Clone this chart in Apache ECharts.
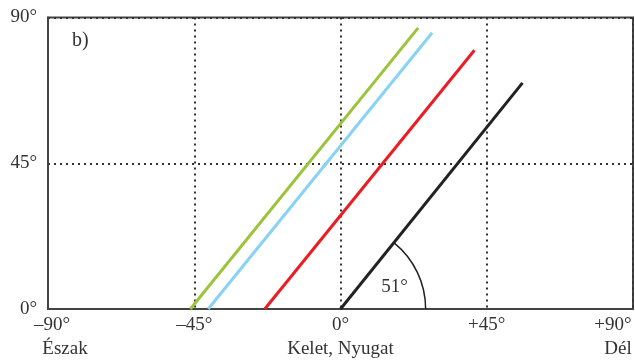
<!DOCTYPE html>
<html>
<head>
<meta charset="utf-8">
<script src="https://cdn.jsdelivr.net/npm/echarts@6/dist/echarts.min.js"></script>
<style>
  html, body { margin: 0; padding: 0; background: #fff; }
  #chart { width: 635px; height: 360px; }
</style>
</head>
<body>
<div id="chart"></div>
<script>
// tick values and labels
var xTicks = [-90, -45, 0, 45, 90];
var xTickLabels = ['–90°', '–45°', '0°', '+45°', '+90°'];
var directions = ['Észak', '', 'Kelet, Nyugat', '', 'Dél'];
var yTicks = [0, 45, 90];
var yTickLabels = ['0°', '45°', '90°'];

// line end points [x, y] in degrees
var greenLine = [[-46.2, 0], [23.9, 86.8]];
var blueLine = [[-40.7, 0], [28.2, 85.3]];
var redLine = [[-23.3, 0], [41.2, 79.9]];
var blackLine = [[0, 0], [56, 69.8]];

var angleDeg = 51;
var angleText = '51°';
var panelText = 'b)';

var font = '"Liberation Serif", "DejaVu Serif", serif';
var txt = '#333';

var chart = echarts.init(document.getElementById('chart'));

function lineSeries(data, color) {
  return {
    type: 'line',
    data: data,
    symbol: 'none',
    silent: true,
    lineStyle: { color: color, width: 3 },
    z: 3
  };
}

var rich = {
  t: { fontFamily: font, fontSize: 19, color: txt, lineHeight: 24 },
  d: { fontFamily: font, fontSize: 19, color: txt, lineHeight: 24 },
  t0: { fontFamily: font, fontSize: 19, color: txt, lineHeight: 24, padding: [0, 0, 0, 8] },
  d0: { fontFamily: font, fontSize: 19, color: txt, lineHeight: 24, padding: [0, 0, 0, 34] },
  t4: { fontFamily: font, fontSize: 19, color: txt, lineHeight: 24, padding: [0, 40, 0, 0] },
  d4: { fontFamily: font, fontSize: 19, color: txt, lineHeight: 24, padding: [0, 30, 0, 0] }
};

var dotted = { color: '#333', width: 2, type: [2, 4] };

var option = {
  animation: false,
  grid: {
    left: 48, right: 2, top: 17.5, bottom: 51,
    outerBoundsMode: 'none',
    containLabel: false,
    show: true, borderColor: '#444', borderWidth: 2
  },
  xAxis: {
    type: 'value',
    min: -90, max: 90, interval: 45,
    axisLine: { show: true, onZero: false, lineStyle: { color: '#444', width: 2 } },
    axisTick: { show: false },
    splitLine: { show: true, lineStyle: dotted },
    axisLabel: {
      margin: 4,
      rich: rich,
      formatter: function (v) {
        var i = xTicks.indexOf(v);
        if (i < 0) return '';
        var k = i === 0 ? '0' : (i === 4 ? '4' : '');
        var s = '{t' + k + '|' + xTickLabels[i] + '}';
        if (directions[i]) s += '\n{d' + k + '|' + directions[i] + '}';
        return s;
      }
    }
  },
  yAxis: {
    type: 'value',
    min: 0, max: 90, interval: 45,
    axisLine: { show: true, onZero: false, lineStyle: { color: '#444', width: 2 } },
    axisTick: { show: false },
    splitLine: { show: true, lineStyle: dotted },
    axisLabel: {
      margin: 11,
      fontFamily: font, fontSize: 19, color: txt,
      formatter: function (v) {
        var i = yTicks.indexOf(v);
        return i < 0 ? '' : yTickLabels[i];
      }
    }
  },
  series: [
    lineSeries(greenLine, '#9cc43b'),
    lineSeries(blueLine, '#88d3f4'),
    lineSeries(redLine, '#ec1c24'),
    lineSeries(blackLine, '#222'),
    {
      type: 'custom',
      silent: true,
      data: [[0, 0]],
      z: 4,
      renderItem: function (params, api) {
        var c = api.coord([0, 0]);
        var r = api.size([26.2, 0])[0];
        var lp = api.coord([16.6, 6.8]);
        return {
          type: 'group',
          children: [
            {
              type: 'arc',
              shape: { cx: c[0], cy: c[1], r: r, startAngle: -angleDeg * Math.PI / 180, endAngle: 0, clockwise: true },
              style: { stroke: '#222', lineWidth: 1.5, fill: null }
            },
            {
              type: 'text',
              x: lp[0], y: lp[1],
              style: { text: angleText, font: '19px ' + font, fill: txt, align: 'center', verticalAlign: 'middle' }
            }
          ]
        };
      }
    }
  ],
  graphic: [
    {
      type: 'text', left: 72, top: 31,
      style: { text: panelText, font: '20px ' + font, fill: txt }
    }
  ]
};

chart.setOption(option);
</script>
</body>
</html>
